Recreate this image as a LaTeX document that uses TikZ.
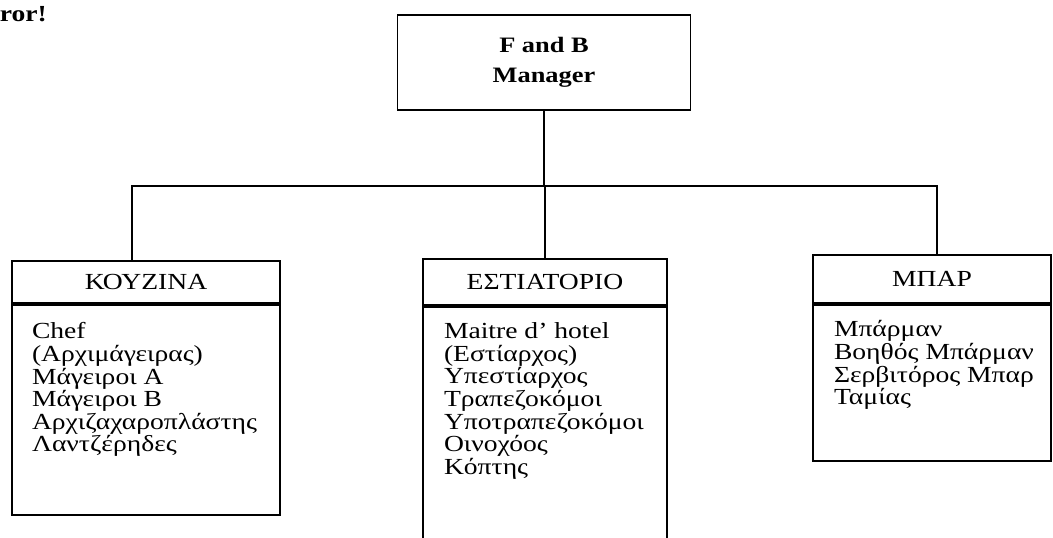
\documentclass[tikz,border=0pt]{standalone}
\usepackage{fontspec}
\setmainfont[FakeStretch=1.2]{Liberation Serif}
\usetikzlibrary{positioning}
\begin{document}
\begin{tikzpicture}[x=1pt,y=-1pt,line width=1.7pt,
  box/.style={draw,rectangle,inner sep=0pt},
  head/.style={box,font=\fontsize{23}{22.6}\selectfont},
  items/.style={align=left,inner sep=0pt,anchor=north west,font=\fontsize{23}{22.6}\selectfont}]
\useasboundingbox (0,0) rectangle (1053,538);
\clip (0,0) rectangle (1053,538);

\node[anchor=west,inner sep=0pt,font=\bfseries\fontsize{23}{24}\selectfont] (err) at (-1,14) {ror!};

\node[box,minimum width=293,minimum height=95,align=center,font=\bfseries\fontsize{22}{30}\selectfont] (manager) at (544,62.5) {F and B\\Manager};

\node[head,minimum width=268,minimum height=42] (kouzina) at (146,282) {ΚΟΥΖΙΝΑ};
\node[box,minimum width=268,minimum height=210,below=0pt of kouzina] (kouzinabody) {};
\node[items] (kouzinalist) at ([shift={(20,18)}]kouzinabody.north west)
  {Chef\\(Αρχιμάγειρας)\\Μάγειροι Α\\Μάγειροι Β\\Αρχιζαχαροπλάστης\\Λαντζέρηδες};

\node[head,minimum width=244,minimum height=46] (estiatorio) at (545,282) {ΕΣΤΙΑΤΟΡΙΟ};
\node[box,minimum width=244,minimum height=255,below=0pt of estiatorio] (estiatoriobody) {};
\node[items] (estiatoriolist) at ([shift={(21,16)}]estiatoriobody.north west)
  {Maitre d' hotel\\(Εστίαρχος)\\Υπεστίαρχος\\Τραπεζοκόμοι\\Υποτραπεζοκόμοι\\Οινοχόος\\Κόπτης};

\node[head,minimum width=238,minimum height=48] (bar) at (932,279) {ΜΠΑΡ};
\node[box,minimum width=238,minimum height=156,below=0pt of bar] (barbody) {};
\node[items] (barlist) at ([shift={(21,16)}]barbody.north west)
  {Μπάρμαν\\Βοηθός Μπάρμαν\\Σερβιτόρος Μπαρ\\Ταμίας};

\coordinate (busleft) at (132,186);
\coordinate (busright) at (937,186);
\draw (manager.south) -- (manager.south |- busleft);
\draw (busleft |- kouzina.north) -- (busleft) -- (busright) -- (busright |- bar.north);
\draw (estiatorio.north |- busleft) -- (estiatorio.north);
\end{tikzpicture}
\end{document}
